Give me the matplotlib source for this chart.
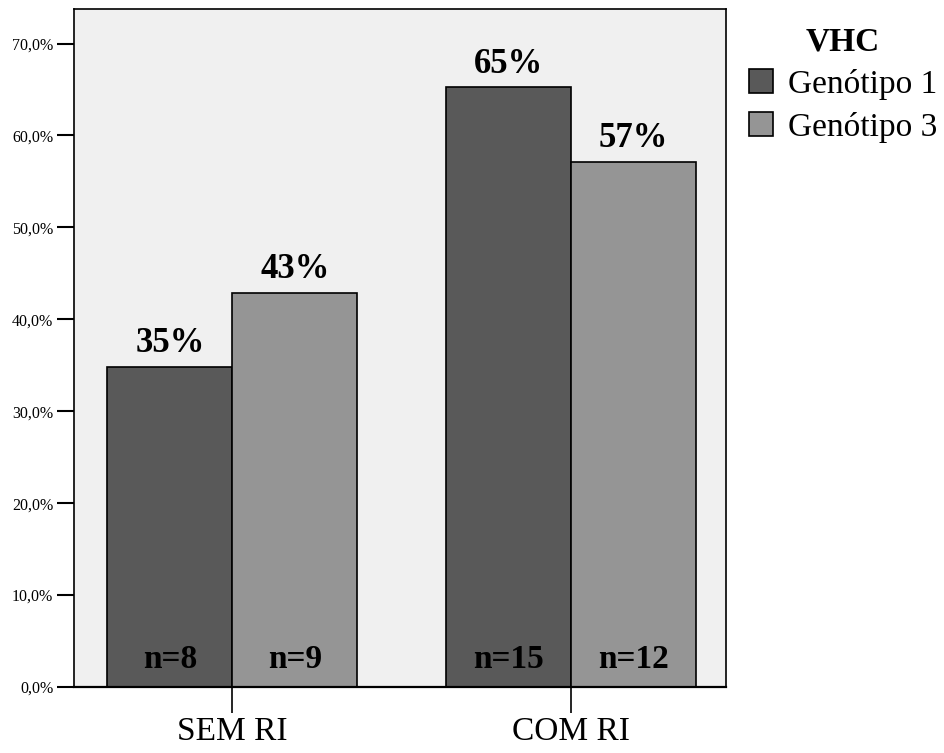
import numpy as np
import matplotlib.pyplot as plt
from matplotlib.ticker import FuncFormatter

groups = ['SEM RI', 'COM RI']
series = ['Genótipo 1', 'Genótipo 3']
pct = [[8 / 23 * 100, 15 / 23 * 100],
       [9 / 21 * 100, 12 / 21 * 100]]
pct_labels = [['35%', '65%'], ['43%', '57%']]
counts = [['n=8', 'n=15'], ['n=9', 'n=12']]
colors = ['#595959', '#959595']

plt.rcParams['font.family'] = ['Liberation Serif', 'DejaVu Serif']

fig = plt.figure(figsize=(9.45, 7.53), dpi=100)
ax = fig.add_axes([0.0783, 0.0876, 0.6897, 0.8998])
ax.set_facecolor('#f0f0f0')

x = np.arange(len(groups))
w = 0.369
for i, name in enumerate(series):
    xs = x + (i - 0.5) * w
    bars = ax.bar(xs, pct[i], w, color=colors[i], edgecolor='black',
                  linewidth=1.2, label=name, zorder=2)
    for b, lab, n in zip(bars, pct_labels[i], counts[i]):
        cx = b.get_x() + b.get_width() / 2
        ax.annotate(lab, (cx, b.get_height()), xytext=(0, 5),
                    textcoords='offset points', ha='center', va='bottom',
                    fontsize=25, fontweight='bold')
        ax.text(cx, 3.0, n, ha='center', va='center',
                fontsize=24, fontweight='bold')

ax.set_xlim(-0.468, 1.458)
ax.set_ylim(0, 73.7)
ax.set_yticks(np.arange(0, 71, 10))
ax.yaxis.set_major_formatter(FuncFormatter(lambda v, p: ('%.1f%%' % v).replace('.', ',')))
ax.tick_params(axis='y', length=12, width=1.5, labelsize=11.5, pad=3)
ax.set_xticks(x)
ax.set_xticklabels(groups, fontsize=24)
ax.tick_params(axis='x', length=19, width=1.2, pad=2)
for s in ax.spines.values():
    s.set_linewidth(1.2)
ax.spines['bottom'].set_linewidth(1.6)

leg = ax.legend(loc='upper left', bbox_to_anchor=(0.7926, 0.965),
                bbox_transform=fig.transFigure, frameon=False, fontsize=24,
                title='VHC', handlelength=0.72, handleheight=0.72,
                handletextpad=0.45, labelspacing=0.35, borderaxespad=0,
                borderpad=0)
leg.get_title().set_fontsize(24)
leg.get_title().set_fontweight('bold')
for h in leg.legend_handles:
    h.set_edgecolor('black')
    h.set_linewidth(1.2)

fig.savefig('out.png', dpi=100)
